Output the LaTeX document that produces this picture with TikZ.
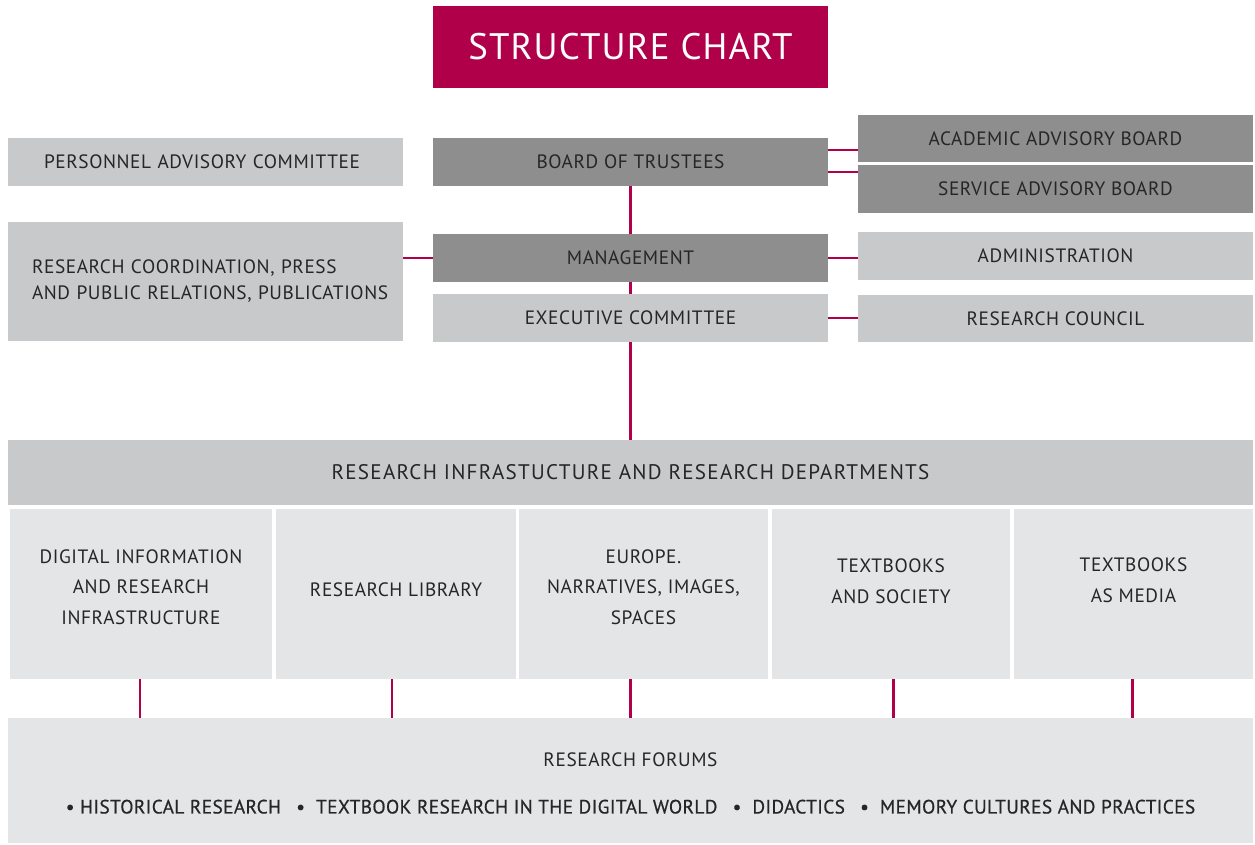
\documentclass[tikz,border=0pt]{standalone}
\usepackage{fontspec}
\setmainfont[LetterSpace=3]{PT Sans}
\usepackage{tikz}
\usetikzlibrary{positioning}
\definecolor{crimson}{HTML}{B0004A}
\definecolor{darkbox}{HTML}{8E8E8E}
\definecolor{lightbox}{HTML}{C8C9CB}
\definecolor{palebox}{HTML}{E4E5E7}
\definecolor{inktext}{HTML}{262626}
\tikzstyle{block} = [rectangle, text=inktext, font=\fontsize{11}{15}\selectfont,
    minimum width=7.9cm, minimum height=0.96cm, inner sep=0pt, align=center]
\tikzstyle{darkblock} = [block, fill=darkbox]
\tikzstyle{lightblock} = [block, fill=lightbox]
\tikzstyle{deptblock} = [block, fill=palebox, minimum height=3.4cm]
\tikzstyle{deptlabel} = [text=inktext, align=center, inner sep=0pt,
    font=\fontsize{11}{17.5}\selectfont]
\tikzstyle{line} = [draw=crimson, line width=1.7pt]

\begin{document}
\begin{tikzpicture}[x=0.02cm, y=-0.02cm]
\useasboundingbox[fill=white] (0,0) rectangle (1255,845);
    % Place nodes
\node[block, fill=crimson, text=white, minimum height=1.64cm,
    font=\fontsize{21}{26}\selectfont] (title) at (630.5,47) {STRUCTURE CHART};
\node[lightblock, align=left, text width=6.46cm, inner xsep=0.72cm] (pac) at (205.5,162)
    {PERSONNEL ADVISORY COMMITTEE};
\node[darkblock] (board) at (630.5,162) {BOARD OF TRUSTEES};
\node[darkblock, minimum height=0.94cm] (aab) at (1055.5,138.5) {ACADEMIC ADVISORY BOARD};
\node[darkblock] (sab) at (1055.5,189) {SERVICE ADVISORY BOARD};
\node[lightblock, align=left, text width=6.94cm, inner xsep=0.48cm, minimum height=2.38cm,
    font=\fontsize{11}{14.8}\selectfont] (rcp) at (205.5,281.5)
    {\mbox{RESEARCH COORDINATION, PRESS}\\\mbox{AND PUBLIC RELATIONS, PUBLICATIONS}};
\node[darkblock] (mgmt) at (630.5,258) {MANAGEMENT};
\node[lightblock] (admin) at (1055.5,256) {ADMINISTRATION};
\node[lightblock] (exec) at (630.5,318) {EXECUTIVE COMMITTEE};
\node[lightblock, minimum height=0.94cm] (council) at (1055.5,318.5) {RESEARCH COUNCIL};
\node[lightblock, minimum width=24.9cm, minimum height=1.3cm,
    font=\addfontfeature{LetterSpace=6}\fontsize{12}{15}\selectfont] (infra) at (630.5,472.5)
    {RESEARCH INFRASTUCTURE AND RESEARCH DEPARTMENTS};
\node[deptblock, minimum width=5.24cm,
    label={[deptlabel, yshift=0.14cm]center:DIGITAL INFORMATION\\AND RESEARCH\\INFRASTRUCTURE}] (d1) at (141,594) {};
\node[deptblock, minimum width=4.8cm,
    label={[deptlabel, yshift=0.08cm]center:RESEARCH LIBRARY}] (d2) at (396,594) {};
\node[deptblock, minimum width=4.98cm,
    label={[deptlabel, yshift=0.14cm]center:EUROPE.\\NARRATIVES, IMAGES,\\SPACES}] (d3) at (643.5,594) {};
\node[deptblock, minimum width=4.76cm,
    label={[deptlabel, yshift=0.26cm]center:TEXTBOOKS\\AND SOCIETY}] (d4) at (891,594) {};
\node[deptblock, minimum width=4.78cm,
    label={[deptlabel, yshift=0.28cm]center:TEXTBOOKS\\AS MEDIA}] (d5) at (1133.5,594) {};
\node[block, fill=palebox, minimum width=24.9cm, minimum height=2.5cm,
    label={[deptlabel, yshift=-0.05cm, font=\fontsize{11}{27}\selectfont]center:RESEARCH FORUMS\\{\addfontfeature{FakeBold=0.6,LetterSpace=2}\textbullet\ HISTORICAL RESEARCH\enspace\ \textbullet\ \ TEXTBOOK RESEARCH IN THE DIGITAL WORLD\enspace\ \textbullet\ \ DIDACTICS\enspace\ \textbullet\ \ MEMORY CULTURES AND PRACTICES}}]
    (forums) at (630.5,780.5) {};

    % Draw edges
\path[line] (board) -- (mgmt);
\path[line] (mgmt) -- (exec);
\path[line] (exec) -- (infra);
\path[line] ([yshift=0.24cm]board.east) -- ([yshift=0.24cm]board.east -| aab.west);
\path[line] ([yshift=-0.2cm]board.east) -- ([yshift=-0.2cm]board.east -| sab.west);
\path[line] (rcp.east |- mgmt) -- (mgmt.west);
\path[line] (mgmt.east) -- (mgmt.east -| admin.west);
\path[line] (exec.east) -- (exec.east -| council.west);
\path[line] ([xshift=-0.02cm]d1.south) -- ([xshift=-0.02cm]d1.south |- forums.north);
\path[line] ([xshift=-0.08cm]d2.south) -- ([xshift=-0.08cm]d2.south |- forums.north);
\path[line] (d3.south -| exec.south) -- (forums.north -| exec.south);
\path[line] ([xshift=0.04cm]d4.south) -- ([xshift=0.04cm]d4.south |- forums.north);
\path[line] ([xshift=-0.03cm]d5.south) -- ([xshift=-0.03cm]d5.south |- forums.north);
\end{tikzpicture}
\end{document}
